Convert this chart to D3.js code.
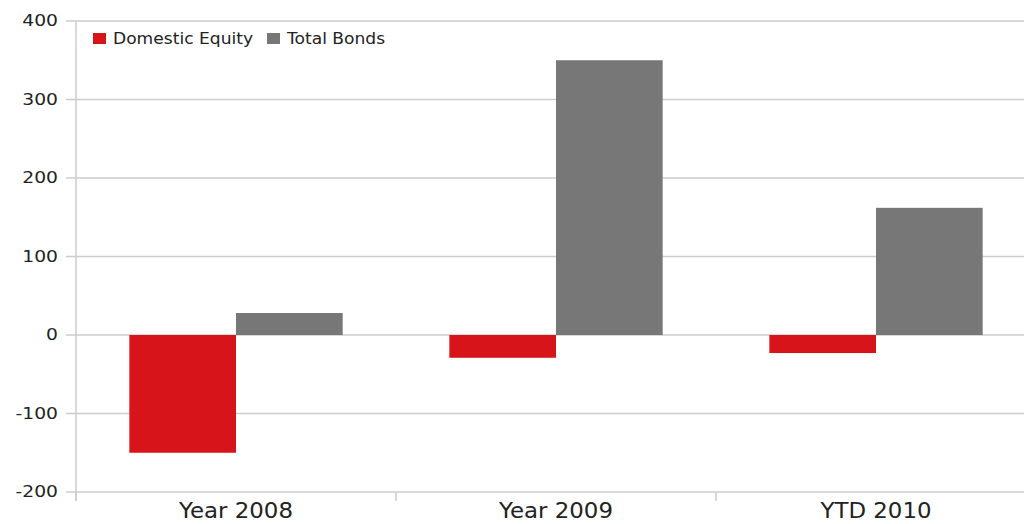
<!DOCTYPE html>
<html><head><meta charset="utf-8">
<script src="https://cdn.jsdelivr.net/npm/d3@7"></script>
<style>html,body{margin:0;padding:0;background:#fff;}svg{display:block;}</style>
</head><body><svg id="c" width="1024" height="524"></svg>
<script>
const categories = ["Year 2008", "Year 2009", "YTD 2010"];
const seriesNames = ["Domestic Equity", "Total Bonds"];
const domesticEquity = [-150, -29, -23];
const totalBonds = [28, 350, 162];
const yTicks = [-200, -100, 0, 100, 200, 300, 400];
const colors = ["#d7141a", "#777777"];

(function () {
const seriesValues = [domesticEquity, totalBonds];
const svg = d3.select("#c");
const font = "'DejaVu Sans', Verdana, sans-serif";
const mLeft = 76, mRight = 1036, mTop = 21, mBottom = 492;

const x = d3.scaleBand().domain(categories).range([mLeft, mRight]).padding(0);
const bw = x.bandwidth();
const x1 = d3.scaleBand().domain(seriesNames).range([bw / 6, bw * 5 / 6]).padding(0);
const y = d3.scaleLinear().domain([-200, 400]).range([mBottom, mTop]);

// gridlines
svg.append("g").selectAll("line").data(yTicks).join("line")
  .attr("x1", mLeft - 10).attr("x2", 1024)
  .attr("y1", d => y(d)).attr("y2", d => y(d))
  .attr("stroke", "#cccccc").attr("stroke-width", 1.5);

// y axis line
svg.append("line").attr("x1", mLeft).attr("x2", mLeft)
  .attr("y1", y(400)).attr("y2", mBottom + 9)
  .attr("stroke", "#cccccc").attr("stroke-width", 1.5);

// category boundary ticks
svg.append("g").selectAll("line").data(categories).join("line")
  .attr("x1", d => x(d)).attr("x2", d => x(d))
  .attr("y1", mBottom).attr("y2", mBottom + 9)
  .attr("stroke", "#cccccc").attr("stroke-width", 1.5);

// y tick labels
svg.append("g").selectAll("text").data(yTicks).join("text")
  .attr("transform", d => `translate(58,${y(d)}) scale(1.25,1)`)
  .attr("text-anchor", "end").attr("dy", "0.36em")
  .attr("font-family", font).attr("font-size", 15).attr("fill", "#222")
  .text(d => d < 0 ? "-" + Math.abs(d) : d);

// bars
categories.forEach((c, i) => {
  seriesNames.forEach((s, j) => {
    const v = seriesValues[j][i];
    svg.append("rect")
      .attr("x", x(c) + x1(s))
      .attr("width", x1.bandwidth())
      .attr("y", y(Math.max(0, v)))
      .attr("height", Math.abs(y(v) - y(0)))
      .attr("fill", colors[j]);
  });
});

// x labels
svg.append("g").selectAll("text").data(categories).join("text")
  .attr("transform", d => `translate(${x(d) + bw / 2},518) scale(1.09,1)`)
  .attr("text-anchor", "middle")
  .attr("font-family", font).attr("font-size", 21).attr("fill", "#222")
  .text(d => d);

// legend
const legendX = [93, 267];
seriesNames.forEach((s, j) => {
  svg.append("rect").attr("x", legendX[j]).attr("y", 33).attr("width", 13).attr("height", 11).attr("fill", colors[j]);
  svg.append("text")
    .attr("transform", `translate(${legendX[j] + 20},44) scale(1.14,1)`)
    .attr("font-family", font).attr("font-size", 15).attr("fill", "#222")
    .text(s);
});
})();
</script></body></html>
